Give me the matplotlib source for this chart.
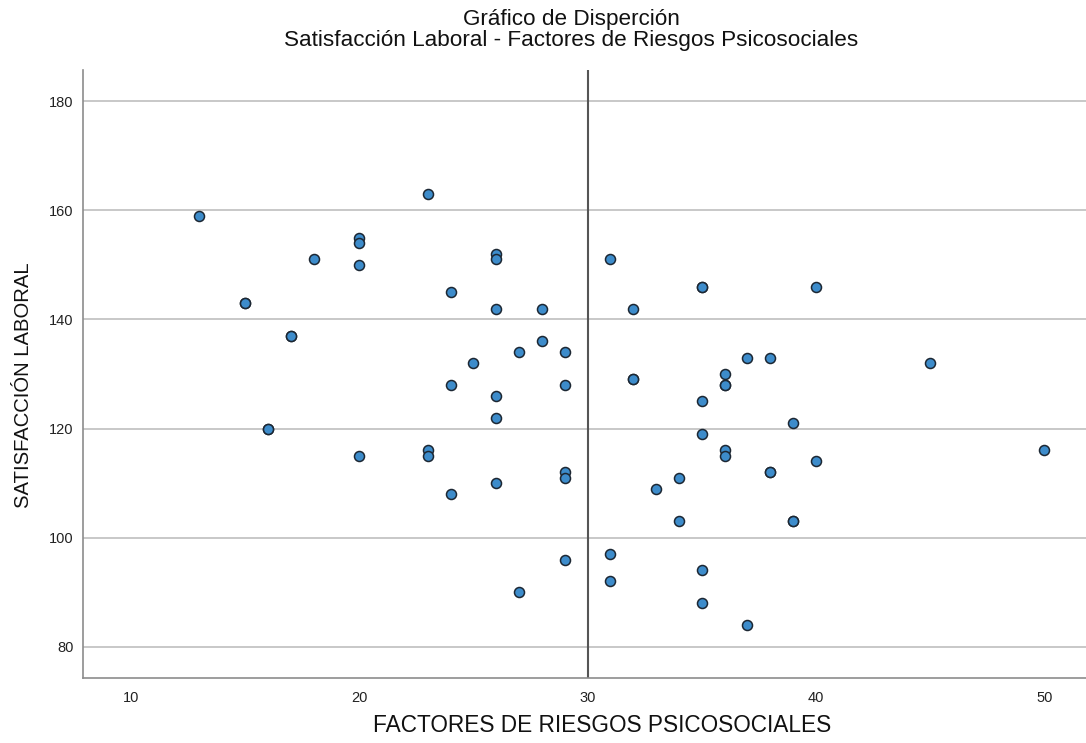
import matplotlib
matplotlib.use("Agg")
import matplotlib.pyplot as plt

plt.rcParams['font.family'] = ['Liberation Sans', 'DejaVu Sans']

# puntos (factores, satisfaccion)
factores = [13, 15, 15, 16, 16, 17, 17, 18,
            20, 20, 20, 20,
            23, 23, 23,
            24, 24, 24,
            25,
            26, 26, 26, 26, 26, 26,
            27, 27,
            28, 28,
            29, 29, 29, 29, 29,
            31, 31, 31,
            32, 32, 32,
            33,
            34, 34,
            35, 35, 35, 35, 35, 35,
            36, 36, 36, 36, 36,
            37, 37,
            38, 38, 38,
            39, 39, 39,
            40, 40,
            45, 50]
satisfaccion = [159, 143, 143, 120, 120, 137, 137, 151,
                155, 154, 150, 115,
                163, 116, 115,
                145, 128, 108,
                132,
                152, 151, 142, 126, 122, 110,
                134, 90,
                142, 136,
                134, 128, 112, 111, 96,
                151, 97, 92,
                142, 129, 129,
                109,
                111, 103,
                146, 146, 125, 119, 94, 88,
                130, 128, 128, 116, 115,
                133, 84,
                133, 112, 112,
                121, 103, 103,
                146, 114,
                132, 116]

y_ticks = [80, 100, 120, 140, 160, 180]
x_ticks = [10, 20, 30, 40, 50]

W, H = 1086, 743
fig = plt.figure(figsize=(W / 100, H / 100), dpi=100)
ax = fig.add_axes([83 / W, 65 / H, 1 - 83 / W, 608 / H])

for yv in y_ticks:
    ax.axhline(yv, color='#c8c8c8', linewidth=1.4, zorder=1)
ax.axvline(30, color='#555555', linewidth=1.5, zorder=2)

ax.scatter(factores, satisfaccion, s=52, color='#3d8ccb',
           edgecolors='#1c2733', linewidths=1.1, zorder=3)

ax.set_xlim(7.9, 51.83)
ax.set_ylim(74.3, 185.7)
ax.set_xticks(x_ticks)
ax.set_yticks(y_ticks)
ax.tick_params(axis='x', length=0, pad=9, labelsize=10.5, colors='#222222')
ax.tick_params(axis='y', length=0, pad=7, labelsize=10.5, colors='#222222')

for side in ['top', 'right']:
    ax.spines[side].set_visible(False)
for side in ['left', 'bottom']:
    ax.spines[side].set_color('#8c8c8c')
    ax.spines[side].set_linewidth(1.2)

# etiquetas de ejes
fig.text(602 / W, 1 - 726 / H, 'FACTORES DE RIESGOS PSICOSOCIALES',
         ha='center', va='center', fontsize=16.3, color='#111111')
fig.text(24 / W, 1 - 385 / H, 'SATISFACCIÓN LABORAL', rotation=90,
         ha='center', va='center', fontsize=14.6, color='#111111')

fig.text(571 / W, 1 - 30 / H, 'Gráfico de Disperción\nSatisfacción Laboral - Factores de Riesgos Psicosociales',
         ha='center', va='center', fontsize=16.2, linespacing=0.98, color='#111111')

fig.savefig('out.png', dpi=100)
